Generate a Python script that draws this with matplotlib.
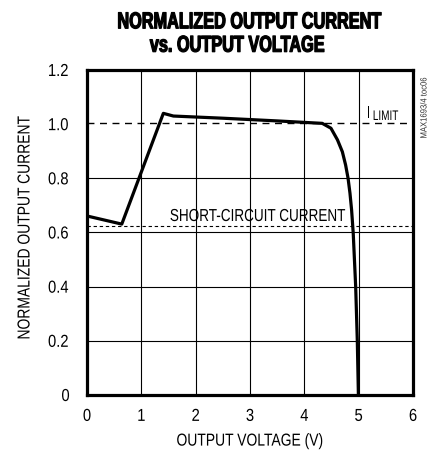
import matplotlib
matplotlib.use("Agg")
import matplotlib.pyplot as plt
from matplotlib.patheffects import AbstractPathEffect
from matplotlib.transforms import Affine2D

plt.rcParams["font.family"] = ["Liberation Sans", "DejaVu Sans"]


class Narrow(AbstractPathEffect):
    """Squeeze text horizontally (no narrow font installed), around its centre
    or its left edge, optionally with an outline to make it look heavier."""

    def __init__(self, sx, lw=0.0, anchor="center"):
        super().__init__()
        self.sx = sx
        self.lw = lw
        self.anchor = anchor

    def draw_path(self, renderer, gc, tpath, affine, rgbFace=None):
        ext = tpath.get_extents()
        cx = ext.x0 if self.anchor == "left" else (ext.x0 + ext.x1) / 2
        squeeze = Affine2D().translate(-cx, 0).scale(self.sx, 1).translate(cx, 0)
        if self.lw > 0:
            gc0 = renderer.new_gc()
            gc0.copy_properties(gc)
            gc0.set_linewidth(self.lw)
            gc0.set_foreground(rgbFace)
            renderer.draw_path(gc0, tpath, squeeze + affine, rgbFace)
            gc0.restore()
        else:
            renderer.draw_path(gc, tpath, squeeze + affine, rgbFace)


# curve
volts = [0.0, 0.64, 1.405, 1.59, 2.5, 3.5, 4.33, 4.49, 4.61, 4.70, 4.76,
         4.805, 4.84, 4.87, 4.9, 4.945, 4.975, 4.995]
current = [0.661, 0.631, 1.040, 1.030, 1.022, 1.012, 1.003, 0.985, 0.942,
           0.898, 0.849, 0.800, 0.745, 0.683, 0.597, 0.4, 0.2, 0.0]

i_limit = 1.005
i_short = 0.625

x_ticks = [0, 1, 2, 3, 4, 5, 6]
y_ticks = [0, 0.2, 0.4, 0.6, 0.8, 1.0, 1.2]
y_labels = ["0", "0.2", "0.4", "0.6", "0.8", "1.0", "1.2"]
grid_y = [0.2, 0.4, 0.6, 0.8]

W, H = 436, 455
fig = plt.figure(figsize=(W / 100, H / 100), dpi=100)
ax = fig.add_axes([87 / W, 1 - 395 / H, 326 / W, 325 / H])

# grid (the 1.0 line is covered by the dashed limit line)
for x in x_ticks[1:-1]:
    ax.axvline(x, color="black", lw=0.8)
for y in grid_y:
    ax.axhline(y, color="black", lw=0.8)

ax.axhline(i_limit, color="black", lw=1.0, ls=(0, (5, 4)))
ax.axhline(i_short, color="black", lw=0.8, ls=(0, (3, 2.5)))

ax.plot(volts, current, color="black", lw=2.3, solid_joinstyle="round")

ax.set_xlim(0, 6)
ax.set_ylim(0, 1.2)
ax.set_xticks(x_ticks)
ax.set_yticks(y_ticks)
ax.set_yticklabels(y_labels)
ax.tick_params(axis="y", length=0, pad=12, labelsize=12.5)
ax.tick_params(axis="x", length=0, pad=10, labelsize=12.5)
for lbl in ax.get_xticklabels() + ax.get_yticklabels():
    lbl.set_path_effects([Narrow(0.85)])
for s in ax.spines.values():
    s.set_linewidth(2.3)

xl = ax.set_xlabel("OUTPUT VOLTAGE (V)", fontsize=12.5, labelpad=7)
yl = ax.set_ylabel("NORMALIZED OUTPUT CURRENT", fontsize=12.5)
xl.set_path_effects([Narrow(0.8)])
yl.set_path_effects([Narrow(0.8)])
ax.yaxis.set_label_coords(32.5 / W, 1 - 228 / H, transform=fig.transFigure)

# reference line labels
t = fig.text(366 / W, 1 - 117.5 / H, "I", fontsize=12, ha="left", va="baseline")
t.set_path_effects([Narrow(0.8, anchor="left")])
t = fig.text(372.5 / W, 1 - 120 / H, "LIMIT", fontsize=10, ha="left", va="baseline")
t.set_path_effects([Narrow(0.72, anchor="left")])
t = fig.text(257.5 / W, 1 - 221 / H, "SHORT-CIRCUIT CURRENT", fontsize=12.5,
             ha="center", va="baseline")
t.set_path_effects([Narrow(0.78)])

t = fig.text(424 / W, 1 - 108 / H, "MAX1693/4 toc06", rotation=90, fontsize=6.5,
             ha="center", va="center", color="#333333")
t.set_path_effects([Narrow(0.85)])

# two-line title, heavy condensed look
t = fig.text(248.5 / W, 1 - 28.3 / H, "NORMALIZED OUTPUT CURRENT", fontsize=16.5,
             fontweight="bold", ha="center", va="baseline")
t.set_path_effects([Narrow(0.71, lw=0.9)])
t = fig.text(237 / W, 1 - 51.7 / H, "vs. OUTPUT VOLTAGE", fontsize=16.5,
             fontweight="bold", ha="center", va="baseline")
t.set_path_effects([Narrow(0.71, lw=0.9)])

fig.savefig("out.png", dpi=100)
